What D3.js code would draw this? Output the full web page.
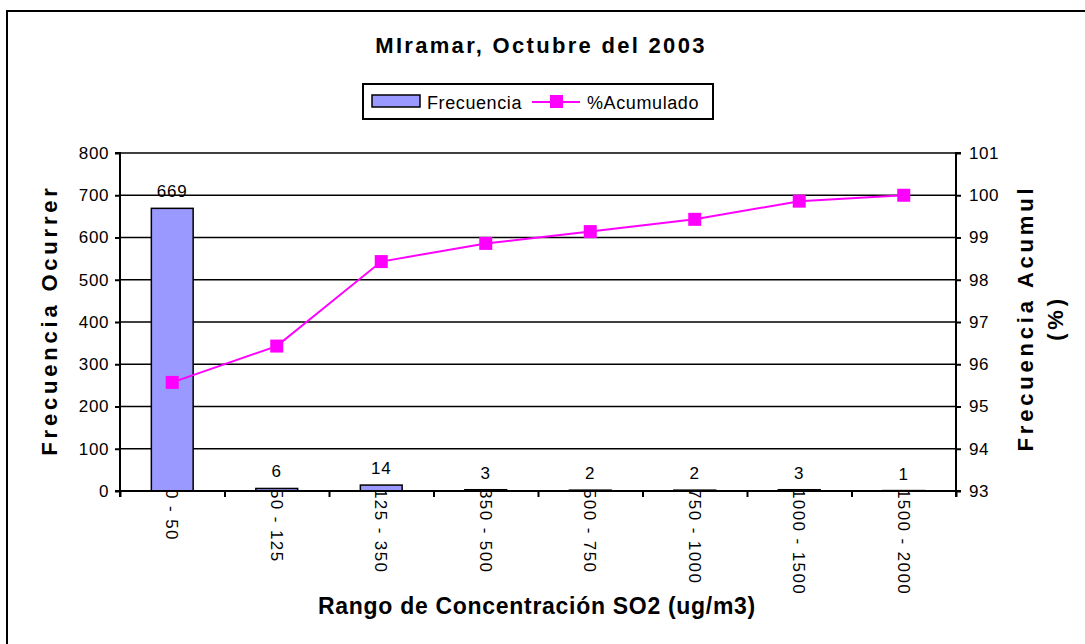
<!DOCTYPE html>
<html><head><meta charset="utf-8">
<script src="https://cdn.jsdelivr.net/npm/d3@7"></script>
<style>
body{margin:0;background:#fff;}
text{font-family:"Liberation Sans",Arial,sans-serif;fill:#000;}
</style></head>
<body><svg id="c" width="1085" height="644"></svg>
<script>
const categories = ["0 - 50","50 - 125","125 - 350","350 - 500","500 - 750","750 - 1000","1000 - 1500","1500 - 2000"];
const frecuencia = [669, 6, 14, 3, 2, 2, 3, 1];
const acumulado = [95.57, 96.43, 98.43, 98.86, 99.14, 99.43, 99.86, 100];
const leftTicks = [0,100,200,300,400,500,600,700,800];
const rightTicks = [93,94,95,96,97,98,99,100,101];

const svg = d3.select("#c");
const L = 120, R = 956, T = 153, B = 491;

const x = d3.scaleBand().domain(categories).range([L, R]).paddingInner(0).paddingOuter(0);
const y = d3.scaleLinear().domain([0, 800]).range([B, T]);
const y2 = d3.scaleLinear().domain([93, 101]).range([B, T]);

// outer border (top & left)
svg.append("line").attr("x1",7).attr("y1",11).attr("x2",1085).attr("y2",11).attr("stroke","#000").attr("stroke-width",2);
svg.append("line").attr("x1",7).attr("y1",10).attr("x2",7).attr("y2",644).attr("stroke","#000").attr("stroke-width",2);

// title
svg.append("text").attr("x",541).attr("y",53).attr("text-anchor","middle")
  .style("font-size","22px").style("font-weight","bold").style("letter-spacing","2.3px")
  .text("MIramar, Octubre del 2003");

// gridlines
svg.append("g").selectAll("line").data(leftTicks.filter(d=>d>0)).join("line")
  .attr("x1",L).attr("x2",R).attr("y1",d=>y(d)).attr("y2",d=>y(d))
  .attr("stroke","#000").attr("stroke-width",1.5);

// category labels (drawn before bars)
svg.append("g").selectAll("text").data(categories).join("text")
  .attr("transform",d=>`translate(${x(d)+x.bandwidth()/2},489) rotate(90)`)
  .attr("dy","0.35em").attr("text-anchor","start")
  .style("font-size","17px").style("letter-spacing","1.4px")
  .text(d=>d);

// bars
const bw = x.bandwidth()*0.4;
svg.append("g").selectAll("rect").data(frecuencia).join("rect")
  .attr("x",(d,i)=>x(categories[i])+x.bandwidth()/2-bw/2)
  .attr("y",d=>y(d)).attr("width",bw).attr("height",d=>y(0)-y(d))
  .attr("fill","#9999FF").attr("stroke","#000").attr("stroke-width",1.5);

// bar value labels
svg.append("g").selectAll("text").data(frecuencia).join("text")
  .attr("x",(d,i)=>x(categories[i])+x.bandwidth()/2)
  .attr("y",d=>y(d)-11).attr("text-anchor","middle")
  .style("font-size","17px").style("letter-spacing","0.8px")
  .text(d=>d);

// axes
const axL = d3.axisLeft(y).tickValues(leftTicks).tickSize(5).tickPadding(6);
const gL = svg.append("g").attr("transform",`translate(${L},0)`).call(axL);
const axR = d3.axisRight(y2).tickValues(rightTicks).tickSize(5).tickPadding(8);
const gR = svg.append("g").attr("transform",`translate(${R},0)`).call(axR);
const axB = d3.axisBottom(d3.scaleLinear().domain([0,categories.length]).range([L,R]))
  .tickValues(d3.range(categories.length+1)).tickSize(6).tickFormat("");
const gB = svg.append("g").attr("transform",`translate(0,${B})`).call(axB);
[gL,gR,gB].forEach(g=>{
  g.select(".domain").attr("stroke","#000").attr("stroke-width",2);
  g.selectAll(".tick line").attr("stroke","#000").attr("stroke-width",2);
  g.selectAll(".tick text").style("font-size","17px").style("font-family","'Liberation Sans',Arial,sans-serif").style("letter-spacing","0.6px").attr("fill","#000");
});
gL.select(".domain").attr("d",`M-5,${T}H0V${B}H-5`);
gR.select(".domain").attr("d",`M5,${T}H0V${B}H5`);
gB.select(".domain").attr("d",`M${L},6V0H${R}V6`);

// line series
const cx = (d,i)=>x(categories[i])+x.bandwidth()/2;
svg.append("path").datum(acumulado)
  .attr("d",d3.line().x(cx).y(d=>y2(d)))
  .attr("fill","none").attr("stroke","#FF00FF").attr("stroke-width",2);
svg.append("g").selectAll("rect").data(acumulado).join("rect")
  .attr("x",(d,i)=>cx(d,i)-6.5).attr("y",d=>y2(d)-6.5)
  .attr("width",13).attr("height",13).attr("fill","#FF00FF");

// axis titles
svg.append("text").attr("transform",`translate(57,${(T+B)/2-2}) rotate(-90)`)
  .attr("text-anchor","middle").style("font-size","22px").style("font-weight","bold").style("letter-spacing","3.8px")
  .text("Frecuencia Ocurrer");
const rt = svg.append("text").attr("transform",`translate(1033,${(T+B)/2-4}) rotate(-90)`)
  .attr("text-anchor","middle").style("font-size","22px").style("font-weight","bold").style("letter-spacing","3.8px");
rt.append("tspan").attr("x",0).attr("y",0).text("Frecuencia Acumul");
rt.append("tspan").attr("x",0).attr("y",30).text("(%)");
svg.append("text").attr("x",537).attr("y",614).attr("text-anchor","middle")
  .style("font-size","23px").style("font-weight","bold").style("letter-spacing","0.7px")
  .text("Rango de Concentración SO2 (ug/m3)");

// legend
const lg = svg.append("g");
lg.append("rect").attr("x",363).attr("y",84).attr("width",350).attr("height",35)
  .attr("fill","#fff").attr("stroke","#000").attr("stroke-width",2);
lg.append("rect").attr("x",372).attr("y",95).attr("width",48).attr("height",12)
  .attr("fill","#9999FF").attr("stroke","#000").attr("stroke-width",1.5);
lg.append("text").attr("x",427).attr("y",109).style("font-size","18px").style("letter-spacing","0.6px").text("Frecuencia");
lg.append("line").attr("x1",532).attr("x2",580).attr("y1",102).attr("y2",102).attr("stroke","#FF00FF").attr("stroke-width",2);
lg.append("rect").attr("x",550).attr("y",95).attr("width",13).attr("height",13).attr("fill","#FF00FF");
lg.append("text").attr("x",587).attr("y",109).style("font-size","18px").style("letter-spacing","0.6px").text("%Acumulado");
</script></body></html>
